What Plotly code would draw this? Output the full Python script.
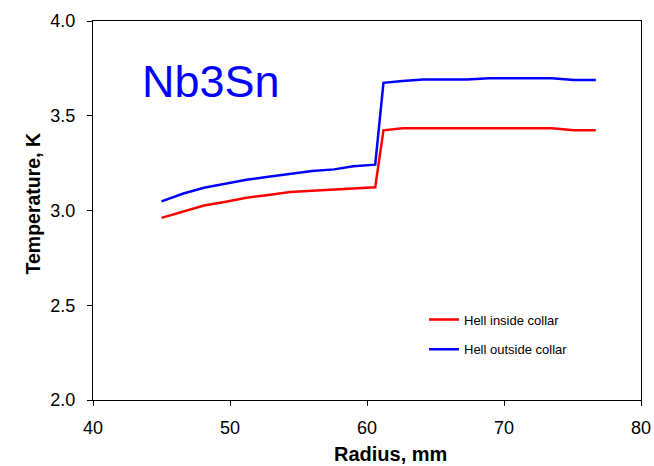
import plotly.graph_objects as go

radius = [45.0, 46.6, 48.1, 49.6, 51.2, 52.8, 54.4, 56.0, 57.6, 59.0, 60.6,
          61.2, 62.6, 64.1, 65.7, 67.3, 68.9, 70.5, 72.0, 73.5, 75.1, 76.7]
inside = [2.961, 2.995, 3.026, 3.045, 3.067, 3.082, 3.097, 3.104, 3.111, 3.118, 3.123,
          3.423, 3.434, 3.434, 3.434, 3.434, 3.434, 3.434, 3.434, 3.434, 3.423, 3.423]
outside = [3.048, 3.090, 3.120, 3.142, 3.162, 3.178, 3.193, 3.208, 3.217, 3.234, 3.242,
           3.674, 3.683, 3.691, 3.691, 3.691, 3.698, 3.698, 3.698, 3.698, 3.688, 3.688]
x_ticks = [40, 50, 60, 70, 80]
y_ticks = [2.0, 2.5, 3.0, 3.5, 4.0]

FONT = "Liberation Sans, Arial"

fig = go.Figure()
fig.add_trace(go.Scatter(x=radius, y=inside, mode="lines", name="Hell inside collar",
                         line=dict(color="#ff0000", width=2.5), legendgroup="a"))
fig.add_trace(go.Scatter(x=radius, y=outside, mode="lines", name="Hell outside collar",
                         line=dict(color="#0000ff", width=2.5), legendgroup="b"))

fig.update_layout(
    width=654, height=466,
    margin=dict(l=93, r=13, t=21, b=66, autoexpand=False),
    paper_bgcolor="white", plot_bgcolor="white",
    font=dict(family=FONT, color="black", size=18),
    showlegend=True,
    legend=dict(x=0.604, y=0.252, xanchor="left", yanchor="top",
                font=dict(family=FONT, size=13, color="black"),
                bgcolor="rgba(0,0,0,0)", tracegroupgap=10),
    xaxis=dict(range=[40, 80], tickvals=x_ticks, ticktext=[str(v) for v in x_ticks],
               showgrid=False, zeroline=False, showline=True, linecolor="black", linewidth=1.3,
               mirror=True, ticks="outside", ticklen=5, tickcolor="black", automargin=False,
               ticklabelstandoff=6, tickfont=dict(size=18)),
    yaxis=dict(range=[2.0, 4.0], tickvals=y_ticks, ticktext=[f"{v:.1f}" for v in y_ticks],
               showgrid=False, zeroline=False, showline=True, linecolor="black", linewidth=1.3,
               mirror=True, ticks="outside", ticklen=5, tickcolor="black", automargin=False,
               ticklabelstandoff=8, tickfont=dict(size=18)),
    annotations=[
        dict(text="Nb3Sn", xref="paper", yref="paper", x=0.085, y=0.84,
             xanchor="left", yanchor="middle", showarrow=False,
             font=dict(family=FONT, size=45, color="#0000ff")),
        dict(text="<b>Radius, mm</b>", xref="paper", yref="paper", x=0.542, y=-0.142,
             xanchor="center", yanchor="middle", showarrow=False,
             font=dict(family=FONT, size=20, color="black")),
        dict(text="<b>Temperature, K</b>", xref="paper", yref="paper", x=-0.1095, y=0.5185,
             xanchor="center", yanchor="middle", showarrow=False, textangle=-90,
             font=dict(family=FONT, size=19.5, color="black")),
    ],
)

fig.write_html("out.html")
